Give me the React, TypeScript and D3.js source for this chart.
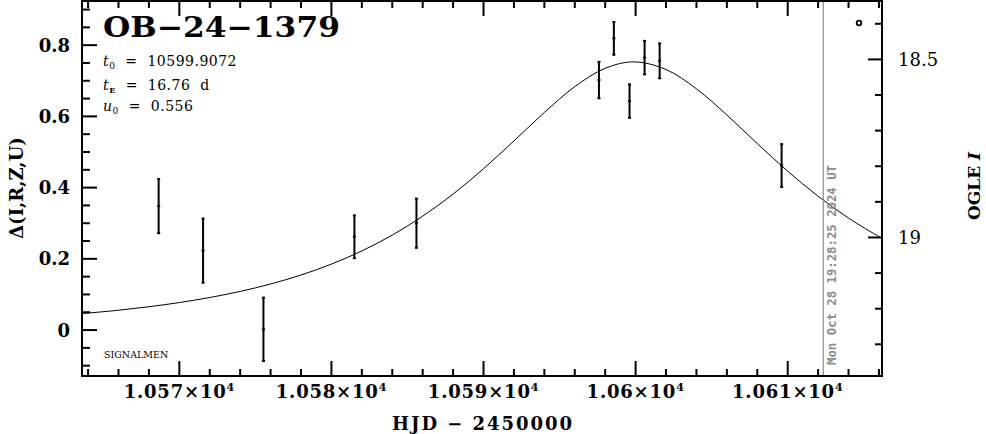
import React from "react";
import * as d3 from "d3";

// ---- data ----
const obsDay = [10568.64, 10571.56, 10575.53, 10581.51, 10585.59, 10597.59, 10598.57, 10599.6, 10600.59, 10601.58, 10609.6];
const obsDelta = [0.348, 0.223, 0.002, 0.262, 0.3, 0.702, 0.819, 0.643, 0.765, 0.756, 0.462];
const obsErr = [0.076, 0.09, 0.089, 0.06, 0.069, 0.051, 0.046, 0.047, 0.047, 0.049, 0.06];

const modelDay = [10563.6, 10564, 10566, 10568, 10570, 10572, 10574, 10576, 10578, 10580, 10582, 10584, 10586, 10588, 10590, 10592, 10594, 10596, 10598, 10599.9, 10602, 10604, 10606, 10608, 10610, 10612, 10614, 10616, 10616.2];
const modelDelta = [0.0462, 0.0477, 0.0557, 0.0655, 0.0772, 0.0914, 0.1085, 0.1293, 0.1546, 0.1852, 0.2222, 0.2667, 0.3198, 0.3819, 0.4531, 0.5311, 0.611, 0.6835, 0.7351, 0.753, 0.7316, 0.6774, 0.6038, 0.5237, 0.4461, 0.3758, 0.3145, 0.2623, 0.2575];

const xTickValues = [10570, 10580, 10590, 10600, 10610];
const xTickMantissa = ["1.057", "1.058", "1.059", "1.06", "1.061"];
const yTickValues = [0, 0.2, 0.4, 0.6, 0.8];
const yTickLabels = ["0", "0.2", "0.4", "0.6", "0.8"];
const magTickValues = [18.5, 19];
const magTickLabels = ["18.5", "19"];

const title = "OB\u221224\u22121379";
const nowDay = 10612.34;
const nowText = "Mon Oct 28 19:28:25 2024 UT";
const baseMag = 19.26;

const FONT = "'DejaVu Serif', serif";

export default function App() {
  const L = 82, R = 882, T = 1, B = 376;
  const x = d3.scaleLinear().domain([10563.6, 10616.2]).range([L, R]);
  const y = d3.scaleLinear().domain([-0.129, 0.924]).range([B, T]);
  const yMag = (m: number) => y(baseMag - m);

  const line = d3
    .line<number>()
    .x((_, i) => x(modelDay[i]))
    .y((d) => y(d))
    .curve(d3.curveCatmullRom);

  const xMinor = d3.range(10564, 10617, 2);
  const yMinor = d3.range(-0.1, 0.92, 0.05).map((v) => Math.round(v * 100) / 100);
  const magMinor = d3.range(18.4, 19.35, 0.1).map((v) => Math.round(v * 10) / 10);

  const isMajorX = (v: number) => xTickValues.includes(v);
  const isMajorY = (v: number) => yTickValues.some((t) => Math.abs(t - v) < 1e-6);
  const isMajorMag = (v: number) => magTickValues.some((t) => Math.abs(t - v) < 1e-6);
  const pre = { whiteSpace: "pre" } as React.CSSProperties;

  return (
    <svg
      width={986}
      height={434}
      style={{ position: "absolute", left: 0, top: 0, background: "#fff" }}
      fontFamily={FONT}
    >
      <rect x={0} y={0} width={986} height={434} fill="#fff" />
      {/* model curve */}
      <path d={line(modelDelta) || ""} fill="none" stroke="#000" strokeWidth={1} />

      {/* now line */}
      <line x1={x(nowDay)} x2={x(nowDay)} y1={T} y2={B} stroke="#8c8c8c" strokeWidth={1.2} />
      <text
        transform={`translate(${x(nowDay) + 12.5},365) rotate(-90)`}
        fontSize={12}
        fontWeight="bold"
        fill="#8c8c8c"
        fontFamily="'DejaVu Sans Mono', monospace"
        textLength={200}
        lengthAdjust="spacingAndGlyphs"
      >
        {nowText}
      </text>

      {/* data with error bars */}
      {obsDay.map((d, i) => {
        const cx = x(d);
        const y1 = y(obsDelta[i] + obsErr[i]);
        const y2 = y(obsDelta[i] - obsErr[i]);
        const cy = y(obsDelta[i]);
        return (
          <g key={i} stroke="#000" strokeWidth={2}>
            <line x1={cx} x2={cx} y1={y1} y2={y2} />
            <line x1={cx - 1.5} x2={cx + 1.5} y1={y1} y2={y1} />
            <line x1={cx - 1.5} x2={cx + 1.5} y1={y2} y2={y2} />
            <line x1={cx - 1.5} x2={cx + 1.5} y1={cy} y2={cy} />
          </g>
        );
      })}

      {/* frame */}
      <rect x={L} y={T} width={R - L} height={B - T} fill="none" stroke="#000" strokeWidth={2} />

      {/* x ticks bottom & top */}
      {xMinor.map((v) => {
        const len = isMajorX(v) ? 15 : 7;
        return (
          <g key={"x" + v} stroke="#000" strokeWidth={2}>
            <line x1={x(v)} x2={x(v)} y1={B} y2={B - len} />
            <line x1={x(v)} x2={x(v)} y1={T} y2={T + len} />
          </g>
        );
      })}
      {/* left ticks */}
      {yMinor.map((v) => {
        const len = isMajorY(v) ? 15 : 8;
        return <line key={"y" + v} x1={L} x2={L + len} y1={y(v)} y2={y(v)} stroke="#000" strokeWidth={2} />;
      })}
      {/* right mag ticks */}
      {magMinor.map((v) => {
        const len = isMajorMag(v) ? 14 : 7;
        return <line key={"m" + v} x1={R} x2={R - len} y1={yMag(v)} y2={yMag(v)} stroke="#000" strokeWidth={2} />;
      })}

      {/* x tick labels */}
      {xTickValues.map((v, i) => (
        <text key={"xl" + v} x={x(v)} y={398} textAnchor="middle" fontSize={18} fontWeight="bold" letterSpacing={0.8}>
          {xTickMantissa[i] + "\u00d710"}
          <tspan dy={-7} fontSize={11}>4</tspan>
        </text>
      ))}
      {/* y tick labels */}
      {yTickValues.map((v, i) => (
        <text key={"yl" + v} x={70} y={y(v) + 6.5} textAnchor="end" fontSize={18} fontWeight="bold">
          {yTickLabels[i]}
        </text>
      ))}
      {/* mag tick labels */}
      {magTickValues.map((v, i) => (
        <text key={"ml" + v} x={898} y={yMag(v) + 6.5} fontSize={18}>
          {magTickLabels[i]}
        </text>
      ))}

      {/* axis titles */}
      <text x={482} y={430} textAnchor="middle" fontSize={18} fontWeight="bold" textLength={180} lengthAdjust="spacing">
        HJD − 2450000
      </text>
      <text transform="translate(23,188) rotate(-90)" textAnchor="middle" fontSize={18} fontWeight="bold">
        Δ(I,R,Z,U)
      </text>
      <text transform="translate(980,186) rotate(-90)" textAnchor="middle" fontSize={17} fontWeight="bold">
        OGLE <tspan fontStyle="italic">I</tspan>
      </text>

      {/* title & parameters */}
      <text x={103} y={37} fontSize={28} fontWeight="bold" textLength={237} lengthAdjust="spacingAndGlyphs">
        {title}
      </text>
      <text x={103} y={66} fontSize={14} letterSpacing={0.5} style={pre}>
        <tspan fontStyle="italic">t</tspan>
        <tspan fontSize={9} dy={3}>0</tspan>
        <tspan dy={-3}>{"  =  10599.9072"}</tspan>
      </text>
      <text x={103} y={90} fontSize={14} letterSpacing={0.5} style={pre}>
        <tspan fontStyle="italic">t</tspan>
        <tspan fontSize={8} dy={3} fontWeight="bold">E</tspan>
        <tspan dy={-3}>{"  =  16.76  d"}</tspan>
      </text>
      <text x={103} y={111} fontSize={14} letterSpacing={0.5} style={pre}>
        <tspan fontStyle="italic">u</tspan>
        <tspan fontSize={9} dy={3}>0</tspan>
        <tspan dy={-3}>{"  =  0.556"}</tspan>
      </text>
      <text x={104} y={358} fontSize={9.5}>
        SIGNALMEN
      </text>
      <circle cx={859} cy={23} r={2.3} fill="none" stroke="#000" strokeWidth={1.8} />
    </svg>
  );
}
